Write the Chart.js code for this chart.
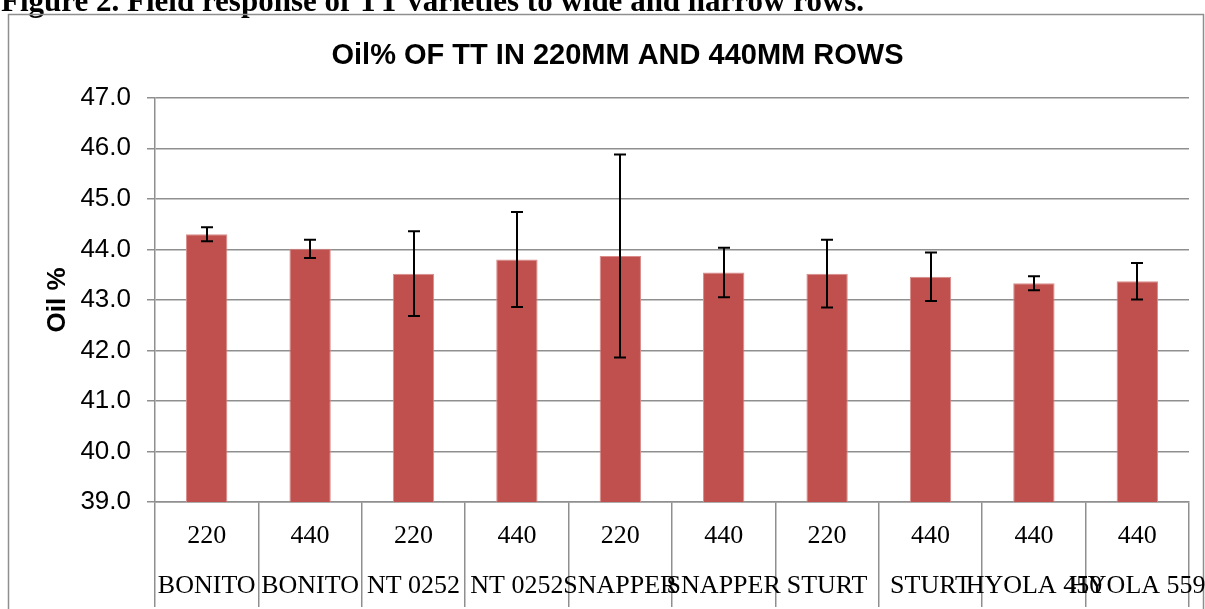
<!DOCTYPE html>
<html>
<head>
<meta charset="utf-8">
<script src="https://cdn.jsdelivr.net/npm/chart.js@4"></script>
<style>
  html, body { margin: 0; padding: 0; background: #fff; overflow: hidden; }
  #oilChart { position: absolute; left: 0; top: 0; }
</style>
</head>
<body>
<canvas id="oilChart" width="1205" height="609"></canvas>
<script>
// values
const rowWidths = ['220', '440', '220', '440', '220', '440', '220', '440', '440', '440'];
const varieties = ['BONITO', 'BONITO', 'NT 0252', 'NT 0252', 'SNAPPER', 'SNAPPER', 'STURT', 'STURT', 'HYOLA 450', 'HYOLA 559'];
const oilPct = [44.30, 44.01, 43.52, 43.80, 43.87, 43.54, 43.52, 43.46, 43.33, 43.37];
const oilErr = [0.14, 0.18, 0.84, 0.94, 2.01, 0.49, 0.67, 0.48, 0.14, 0.36];
const yMin = 39, yMax = 47, yStep = 1;

const chartTitle = 'Oil% OF TT IN 220MM AND 440MM ROWS';
const figCaption = 'Figure 2. Field response of TT varieties to wide and narrow rows.';

const gridGrey = '#8f8f8f';

// caption above the chart box and the box itself
const frame = {
    id: 'frame',
    beforeDraw(chart) {
        const ctx = chart.ctx;
        ctx.save();
        ctx.font = 'bold 31px "Liberation Serif", serif';
        ctx.fillStyle = '#000';
        ctx.textBaseline = 'alphabetic';
        ctx.fillText(figCaption, 1, 11);
        ctx.strokeStyle = gridGrey;
        ctx.lineWidth = 1.5;
        ctx.strokeRect(8.5, 14.5, 1195, 700);
        ctx.restore();
    }
};

// error bars drawn from the data through the y scale
const errorBars = {
    id: 'errorBars',
    afterDatasetsDraw(chart) {
        const ctx = chart.ctx;
        const y = chart.scales.y;
        const meta = chart.getDatasetMeta(0);
        ctx.save();
        ctx.strokeStyle = '#000';
        ctx.lineWidth = 2;
        meta.data.forEach((bar, i) => {
            const top = y.getPixelForValue(oilPct[i] + oilErr[i]);
            const bot = y.getPixelForValue(oilPct[i] - oilErr[i]);
            const x = Math.round(bar.x);
            ctx.beginPath();
            ctx.moveTo(x, top); ctx.lineTo(x, bot);
            ctx.moveTo(x - 6, top); ctx.lineTo(x + 6, top);
            ctx.moveTo(x - 6, bot); ctx.lineTo(x + 6, bot);
            ctx.stroke();
        });
        ctx.restore();
    }
};

const labels = rowWidths.map((r, i) => [r, varieties[i]]);

new Chart(document.getElementById('oilChart'), {
    type: 'bar',
    data: {
        labels: labels,
        datasets: [{
            label: 'Oil %',
            data: oilPct,
            backgroundColor: '#C0504D',
            borderColor: '#d98c8a',
            borderWidth: 1,
            categoryPercentage: 1.0,
            barPercentage: 0.4
        }]
    },
    options: {
        responsive: false,
        animation: false,
        devicePixelRatio: 1,
        layout: { padding: { left: 46, right: 16, top: 0, bottom: 0 } },
        plugins: {
            legend: { display: false },
            tooltip: { enabled: false },
            title: {
                display: true,
                text: chartTitle,
                color: '#000',
                font: { family: '"Liberation Sans", Arial, sans-serif', size: 29, weight: 'bold', lineHeight: 1.2 },
                padding: { top: 39, bottom: 24 }
            }
        },
        scales: {
            x: {
                afterFit: s => { s.height = 107; },
                grid: {
                    offset: true,
                    drawOnChartArea: false,
                    drawTicks: true,
                    tickLength: 105,
                    color: gridGrey,
                    lineWidth: 1.5
                },
                border: { display: true, color: gridGrey, width: 1.5 },
                ticks: {
                    color: '#000',
                    font: { family: '"Liberation Serif", "Times New Roman", serif', size: 26, lineHeight: 1.94 },
                    padding: -96,
                    maxRotation: 0,
                    minRotation: 0,
                    autoSkip: false
                }
            },
            y: {
                min: yMin,
                max: yMax,
                afterFit: s => { s.width = 109; },
                grid: { color: gridGrey, lineWidth: 1.5, tickLength: 8 },
                border: { display: true, color: gridGrey, width: 1.5 },
                ticks: {
                    stepSize: yStep,
                    color: '#000',
                    padding: 16,
                    font: { family: '"Liberation Sans", Arial, sans-serif', size: 26 },
                    callback: v => Number(v).toFixed(1)
                },
                title: {
                    display: true,
                    text: 'Oil %',
                    color: '#000',
                    font: { family: '"Liberation Sans", Arial, sans-serif', size: 26, weight: 'bold', lineHeight: 1.2 },
                    padding: { top: -4, bottom: 0 }
                }
            }
        }
    },
    plugins: [frame, errorBars]
});
</script>
</body>
</html>
